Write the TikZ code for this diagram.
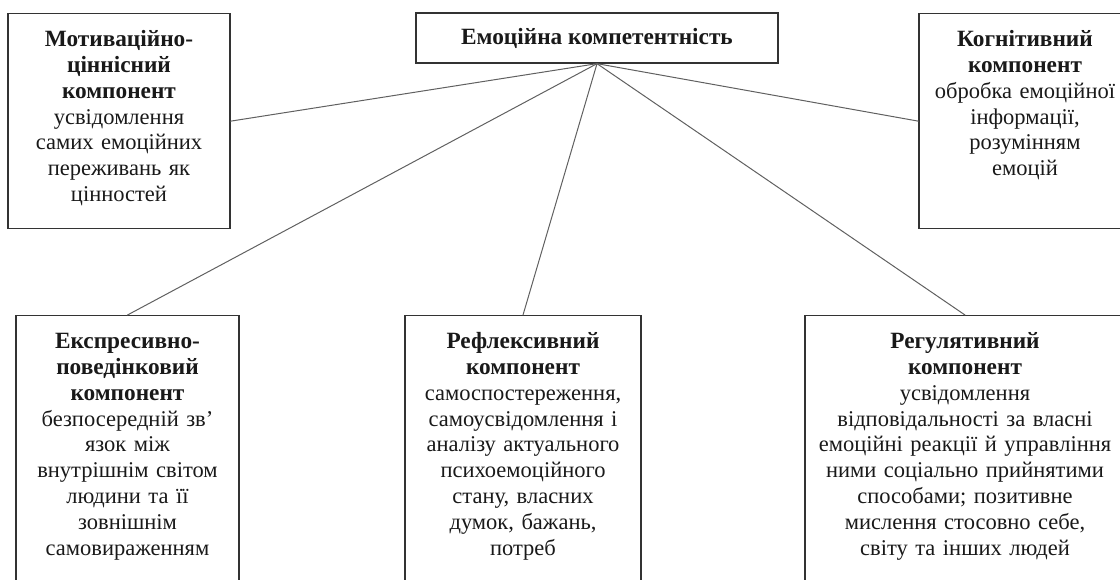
\documentclass[tikz,border=0pt]{standalone}
\usepackage{fontspec}
\setmainfont{Liberation Serif}
\newcommand{\hd}[1]{{\fontsize{23.3}{25.8}\selectfont\bfseries #1}}

\begin{document}
\begin{tikzpicture}[x=1pt, y=-1pt, line cap=round,
  frame/.style={draw=black!80, line width=1.3pt, text=black!90,
    font=\fontsize{22.5}{25.8}\selectfont},
  box/.style={frame, anchor=north, align=center, inner sep=0pt, text height=33pt},
  link/.style={line width=1pt, gray!75!black}
]

%--- Page (same size as the reference; lower boxes run past it) ---
\useasboundingbox (0,0) rectangle (1120,579);
\clip (0,0) rectangle (1120,579);

%--- Central box ---
\node[frame, minimum width=362pt, minimum height=50pt] (emo) at (597,38)
  {\hd{Емоційна компетентність}};

%--- Upper row (top edge at y=13) ---
\node[box, text width=222pt, text depth=182pt] (motiv) at (119,13)
  {\hd{Мотиваційно-\\ціннісний\\компонент}\\усвідомлення\\самих емоційних\\переживань як\\цінностей};
\node[box, text width=212pt, text depth=182pt] (cogn) at (1025,13)
  {\hd{Когнітивний\\компонент}\\обробка емоційної\\інформації,\\розумінням\\емоцій};

%--- Lower row (top edge at y=315, cut by the page) ---
\node[box, text width=223pt, text depth=300pt] (expr) at (127.5,315)
  {\hd{Експресивно-\\поведінковий\\компонент}\\безпосередній зв’\\язок між\\внутрішнім світом\\людини та її\\зовнішнім\\самовираженням};
\node[box, text width=236pt, text depth=300pt] (refl) at (523,315)
  {\hd{Рефлексивний\\компонент}\\самоспостереження,\\самоусвідомлення і\\аналізу актуального\\психоемоційного\\стану, власних\\думок, бажань,\\потреб};
\node[box, text width=320pt, text depth=300pt] (regul) at (965,315)
  {\hd{Регулятивний\\компонент}\\усвідомлення\\відповідальності за власні\\емоційні реакції й управління\\ними соціально прийнятими\\способами; позитивне\\мислення стосовно себе,\\світу та інших людей};

%--- Links from the central box ---
\draw[link] (emo.south) -- (motiv.east);
\draw[link] (emo.south) -- (cogn.west);
\draw[link] (emo.south) -- (expr.north);
\draw[link] (emo.south) -- (refl.north);
\draw[link] (emo.south) -- (regul.north);

\end{tikzpicture}
\end{document}
